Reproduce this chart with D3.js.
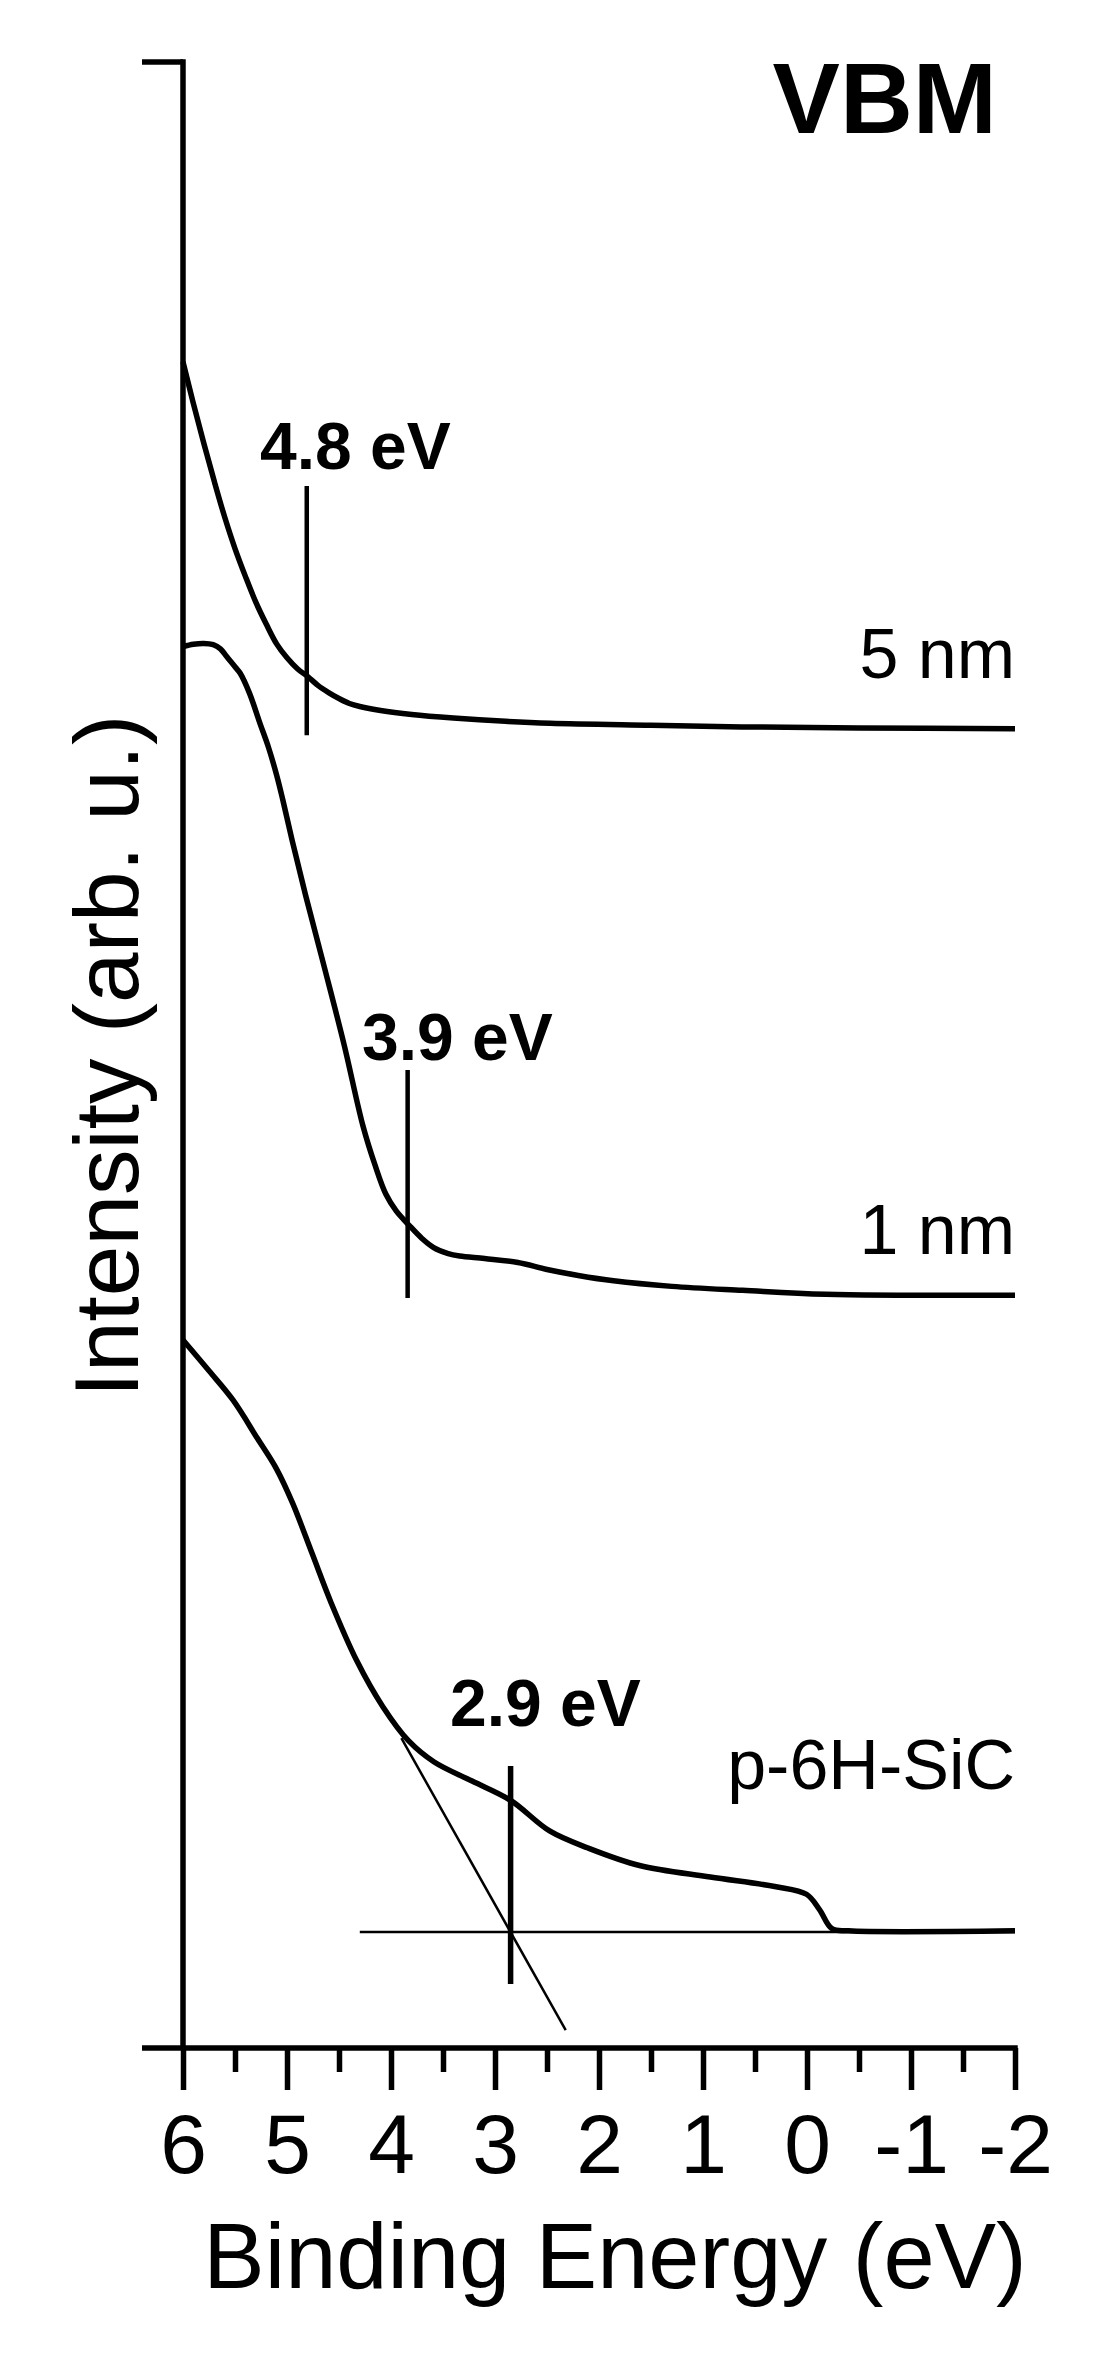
<!DOCTYPE html>
<html>
<head>
<meta charset="utf-8">
<script src="https://cdn.jsdelivr.net/npm/d3@7"></script>
<style>
  html, body { margin: 0; padding: 0; background: #fff; }
  svg { display: block; }
  text { font-family: "Liberation Sans", Arial, sans-serif; fill: #000; }
</style>
</head>
<body>
<svg id="chart" width="1102" height="2362"></svg>
<script>
// ---- Data (binding energy in eV, intensity in arbitrary units) ----
const xTicks = [6, 5, 4, 3, 2, 1, 0, -1, -2];
const xTickLabels = ["6", "5", "4", "3", "2", "1", "0", "-1", "-2"];
const xMinorTicks = [5.5, 4.5, 3.5, 2.5, 1.5, 0.5, -0.5, -1.5];

const energy5nm = [6.00, 5.90, 5.80, 5.70, 5.60, 5.50, 5.40, 5.30, 5.20, 5.10, 5.00, 4.90, 4.80, 4.70, 4.60, 4.50, 4.40, 4.30, 4.10, 3.80, 3.40, 2.90, 2.47, 1.50, 0.625, -0.5, -2.0];
const intensity5nm = [849, 828, 808, 789, 771, 755, 741, 728, 717, 707, 700, 694.5, 690.5, 686, 682.5, 679.5, 677, 675.5, 673.5, 671.5, 669.7, 668, 667, 666, 665.2, 664.7, 664.3];

const energy1nm = [6.00, 5.90, 5.80, 5.71, 5.64, 5.58, 5.50, 5.45, 5.36, 5.26, 5.18, 5.10, 5.04, 4.95, 4.82, 4.64, 4.45, 4.27, 4.15, 4.05, 3.95, 3.83, 3.70, 3.59, 3.45, 3.34, 3.10, 2.78, 2.50, 2.20, 1.86, 1.30, 0.62, -0.18, -2.0];
const intensity1nm = [705.6, 706.8, 707.2, 706.6, 704.5, 700.6, 695.5, 692.2, 682.1, 667, 655.2, 641, 628.4, 608, 580.2, 544, 505, 464.4, 444, 430, 421.5, 414.5, 407.5, 403, 400, 398.8, 397.5, 395.5, 392, 389, 386.3, 383.5, 381.5, 379.5, 379];

const energySiC = [6.00, 5.75, 5.52, 5.285, 5.10, 4.945, 4.76, 4.575, 4.33, 4.08, 3.83, 3.585, 3.22, 2.85, 2.475, 2.105, 1.61, 0.93, 0.31, 0.005, -0.12, -0.24, -0.40, -2.0];
const intensitySiC = [356.5, 341, 326.3, 307.0, 291.5, 274.2, 249.2, 224.1, 195.1, 172.0, 154.6, 144.0, 134.4, 124.7, 109.3, 100.7, 91.9, 86.1, 81.3, 77.4, 69.7, 60.1, 59.0, 59.0];

const seriesLabels = ["5 nm", "1 nm", "p-6H-SiC"];

// VBM onset markers: energy, intensity range of the marker line
const onsetEnergy = [4.81, 3.84, 2.85];
const onsetLow = [661, 377.6, 32.2];
const onsetHigh = [786.5, 492.4, 142.0];
const onsetLabels = ["4.8 eV", "3.9 eV", "2.9 eV"];

// Linear extrapolation lines for the p-6H-SiC spectrum
const baselineEnergy = [4.30, -2.0];
const baselineIntensity = [58.4, 58.4];
const tangentEnergy = [3.90, 2.32];
const tangentIntensity = [156, 9];

// ---- Scales ----
const svg = d3.select("#chart");
const x = d3.scaleLinear().domain([6, -2]).range([183, 1015]);
const y = d3.scaleLinear().domain([0, 1000]).range([2048, 62]);

const line = d3.line().x(d => x(d[0])).y(d => y(d[1]));
const smooth = d3.line().x(d => x(d[0])).y(d => y(d[1])).curve(d3.curveCatmullRom.alpha(0.5));
const zip = (a, b) => a.map((v, i) => [v, b[i]]);

// ---- Axes ----
const g = svg.append("g");
const FONT = '"Liberation Sans", Arial, sans-serif';

// x axis (major ticks)
const xAxis = d3.axisBottom(x).tickValues(xTicks).tickSize(42).tickSizeOuter(0)
  .tickFormat((d, i) => xTickLabels[i]);
const gx = g.append("g").attr("transform", `translate(0,${y(0)})`).call(xAxis);
gx.select(".domain").remove();
gx.selectAll(".tick line").attr("stroke", "#000").attr("stroke-width", 5.5);
gx.selectAll(".tick text")
  .attr("y", 125).attr("dy", null).attr("fill", "#000")
  .style("font-size", "84px").style("font-family", FONT);

// x axis minor ticks
const xMinor = d3.axisBottom(x).tickValues(xMinorTicks).tickSize(24).tickSizeOuter(0).tickFormat("");
const gxm = g.append("g").attr("transform", `translate(0,${y(0)})`).call(xMinor);
gxm.select(".domain").remove();
gxm.selectAll(".tick line").attr("stroke", "#000").attr("stroke-width", 5.5);

// x axis line (extends slightly left of the y axis)
g.append("line")
  .attr("x1", x(6) - 41).attr("x2", x(-2) + 2.75)
  .attr("y1", y(0)).attr("y2", y(0))
  .attr("stroke", "#000").attr("stroke-width", 5.5);

// y axis line and top tick
g.append("line")
  .attr("x1", x(6)).attr("x2", x(6))
  .attr("y1", y(1000) - 2.75).attr("y2", y(0))
  .attr("stroke", "#000").attr("stroke-width", 5.5);
g.append("line")
  .attr("x1", x(6) - 41).attr("x2", x(6))
  .attr("y1", y(1000)).attr("y2", y(1000))
  .attr("stroke", "#000").attr("stroke-width", 5.5);

// ---- Thin extrapolation lines ----
g.append("path").datum(zip(baselineEnergy, baselineIntensity))
  .attr("d", line).attr("fill", "none").attr("stroke", "#000").attr("stroke-width", 2.5);
g.append("path").datum(zip(tangentEnergy, tangentIntensity))
  .attr("d", line).attr("fill", "none").attr("stroke", "#000").attr("stroke-width", 2.5);

// ---- Spectra ----
const spectra = [zip(energy5nm, intensity5nm), zip(energy1nm, intensity1nm), zip(energySiC, intensitySiC)];
g.selectAll(".spec").data(spectra).enter().append("path")
  .attr("class", "spec")
  .attr("d", smooth)
  .attr("fill", "none").attr("stroke", "#000").attr("stroke-width", 5.5)
  .attr("stroke-linejoin", "round");

// ---- Onset marker lines ----
onsetEnergy.forEach((e, i) => {
  g.append("line")
    .attr("x1", x(e)).attr("x2", x(e))
    .attr("y1", y(onsetHigh[i])).attr("y2", y(onsetLow[i]))
    .attr("stroke", "#000").attr("stroke-width", i === 2 ? 5.5 : 4.5);
});

// onset labels
const onsetLabelPos = [[260, 469], [362, 1060], [450, 1726]];
onsetLabels.forEach((t, i) => {
  g.append("text").text(t)
    .attr("x", onsetLabelPos[i][0]).attr("y", onsetLabelPos[i][1])
    .style("font-size", "66px").style("font-weight", "bold");
});

// series labels (right aligned)
const seriesLabelY = [678, 1254, 1789];
seriesLabels.forEach((t, i) => {
  g.append("text").text(t)
    .attr("x", 1015).attr("y", seriesLabelY[i])
    .attr("text-anchor", "end")
    .style("font-size", "70px");
});

// title
g.append("text").text("VBM")
  .attr("x", 997).attr("y", 133).attr("text-anchor", "end")
  .style("font-size", "101px").style("font-weight", "bold");

// axis titles
g.append("text").text("Binding Energy (eV)")
  .attr("x", 615).attr("y", 2288).attr("text-anchor", "middle")
  .style("font-size", "92px");
g.append("text").text("Intensity (arb. u.)")
  .attr("transform", "translate(138,1056) rotate(-90)")
  .attr("text-anchor", "middle")
  .style("font-size", "91px");
</script>
</body>
</html>
